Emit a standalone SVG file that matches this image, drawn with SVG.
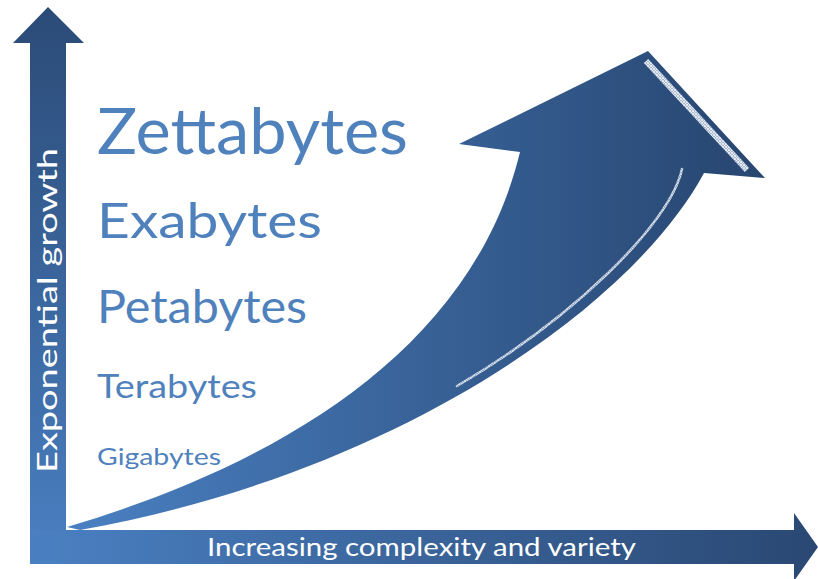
<svg xmlns="http://www.w3.org/2000/svg" width="818" height="579" viewBox="0 0 818 579">
<defs>
<linearGradient id="gV" gradientUnits="userSpaceOnUse" x1="0" y1="7" x2="0" y2="564">
<stop offset="0" stop-color="#2b4b77"/><stop offset="1" stop-color="#4a80c2"/>
</linearGradient>
<linearGradient id="gH" gradientUnits="userSpaceOnUse" x1="30" y1="0" x2="817" y2="0">
<stop offset="0" stop-color="#4a80c2"/><stop offset="1" stop-color="#2a4873"/>
</linearGradient>
<linearGradient id="gC" gradientUnits="userSpaceOnUse" x1="66" y1="0" x2="765" y2="0">
<stop offset="0" stop-color="#4a80c2"/><stop offset="1" stop-color="#27456f"/>
</linearGradient>
<pattern id="hatch" patternUnits="userSpaceOnUse" width="3" height="3">
<rect width="3" height="3" fill="#a9b9d0"/>
<path d="M0,0 L3,3 M3,0 L0,3" stroke="#f2f5fa" stroke-width="0.8"/>
</pattern>
<style>
.lbl{font-family:Lato,"Open Sans","Liberation Sans",sans-serif;fill:#4f81bd}
.ax{font-family:Lato,"Open Sans","Liberation Sans",sans-serif;fill:#ffffff}
</style>
</defs>
<rect width="818" height="579" fill="#ffffff"/>
<g id="connectors">
<path id="yaxis" d="M30,564 L30,43 L13,43 L48,7 L84,43 L66,43 L66,564 Z" fill="url(#gV)"/>
<path id="xaxis" d="M30,530 L794,530 L794,513 L818,547 L794,581 L794,564 L30,564 Z" fill="url(#gH)"/>
<path id="growth" d="M67,527 C260,470 470,360 520,152 L459,144 L648,51 L765,178 L704,173 C630,310 390,475 80,530 Z" fill="url(#gC)"/>
<path d="M682,169 C670,225 570,320 457,386" fill="none" stroke="url(#hatch)" stroke-width="2.6" stroke-linecap="round" opacity="0.9"/>
<path d="M646,61 L747,170" fill="none" stroke="url(#hatch)" stroke-width="6"/>
</g>
<g id="axis-labels">
<text class="ax" transform="translate(57,473) rotate(-90)" font-size="26" textLength="325" lengthAdjust="spacingAndGlyphs">Exponential growth</text>
<text class="ax" x="207" y="556" font-size="25" textLength="429" lengthAdjust="spacingAndGlyphs">Increasing complexity and variety</text>
</g>
<g id="zettabytes"><text class="lbl" x="97" y="154" font-size="64" textLength="311" lengthAdjust="spacingAndGlyphs">Zettabytes</text></g>
<g id="exabytes"><text class="lbl" x="97" y="238" font-size="49" textLength="225" lengthAdjust="spacingAndGlyphs">Exabytes</text></g>
<g id="petabytes"><text class="lbl" x="97" y="323" font-size="46" textLength="210" lengthAdjust="spacingAndGlyphs">Petabytes</text></g>
<g id="terabytes"><text class="lbl" x="97" y="398" font-size="33" textLength="160" lengthAdjust="spacingAndGlyphs">Terabytes</text></g>
<g id="gigabytes"><text class="lbl" x="97" y="465" font-size="24" textLength="124" lengthAdjust="spacingAndGlyphs">Gigabytes</text></g>
</svg>
